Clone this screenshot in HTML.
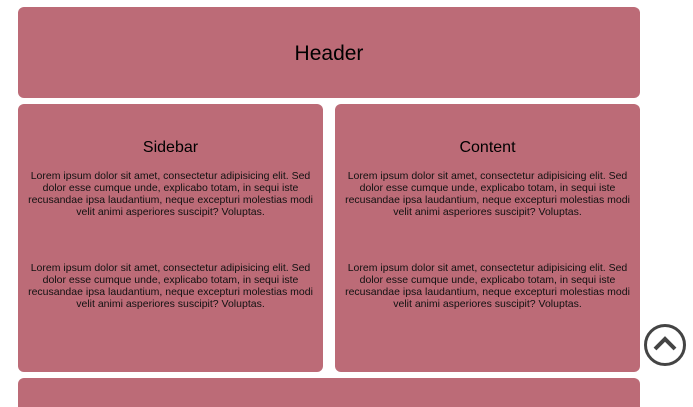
<!DOCTYPE html>
<html><head><style>
html,body{margin:0;padding:0;background:#fff;width:693px;height:407px;overflow:hidden;font-family:"Liberation Sans",sans-serif;color:#111}
.b{position:absolute;background:#bc6b77;border-radius:6px}
h1{position:absolute;margin:0;width:100%;text-align:center;font-weight:normal;font-size:21px;color:#000}
h2{position:absolute;margin:0;width:100%;text-align:center;font-weight:normal;font-size:16px;top:35px;color:#000}
p{position:absolute;margin:0;left:8px;right:8px;text-align:center;font-size:10.5px;line-height:12px}
</style></head><body>
<div class="b" style="left:18px;top:7px;width:622px;height:91px"><h1 style="top:35px">Header</h1></div>
<div class="b" style="left:18px;top:104px;width:305px;height:268px">
<h2>Sidebar</h2>
<p style="top:66px">Lorem ipsum dolor sit amet, consectetur adipisicing elit. Sed dolor esse cumque unde, explicabo totam, in sequi iste recusandae ipsa laudantium, neque excepturi molestias modi velit animi asperiores suscipit? Voluptas.</p>
<p style="top:158px">Lorem ipsum dolor sit amet, consectetur adipisicing elit. Sed dolor esse cumque unde, explicabo totam, in sequi iste recusandae ipsa laudantium, neque excepturi molestias modi velit animi asperiores suscipit? Voluptas.</p>
</div>
<div class="b" style="left:335px;top:104px;width:305px;height:268px">
<h2>Content</h2>
<p style="top:66px">Lorem ipsum dolor sit amet, consectetur adipisicing elit. Sed dolor esse cumque unde, explicabo totam, in sequi iste recusandae ipsa laudantium, neque excepturi molestias modi velit animi asperiores suscipit? Voluptas.</p>
<p style="top:158px">Lorem ipsum dolor sit amet, consectetur adipisicing elit. Sed dolor esse cumque unde, explicabo totam, in sequi iste recusandae ipsa laudantium, neque excepturi molestias modi velit animi asperiores suscipit? Voluptas.</p>
</div>
<div class="b" style="left:18px;top:378px;width:622px;height:29px;border-radius:6px 6px 0 0"></div>
<svg style="position:absolute;left:640px;top:320px" width="50" height="50">
<circle cx="25" cy="25" r="19.5" fill="none" stroke="#444" stroke-width="3"/>
<polyline points="15,29 25,19 35,29" fill="none" stroke="#444" stroke-width="4"/>
</svg>
</body></html>
